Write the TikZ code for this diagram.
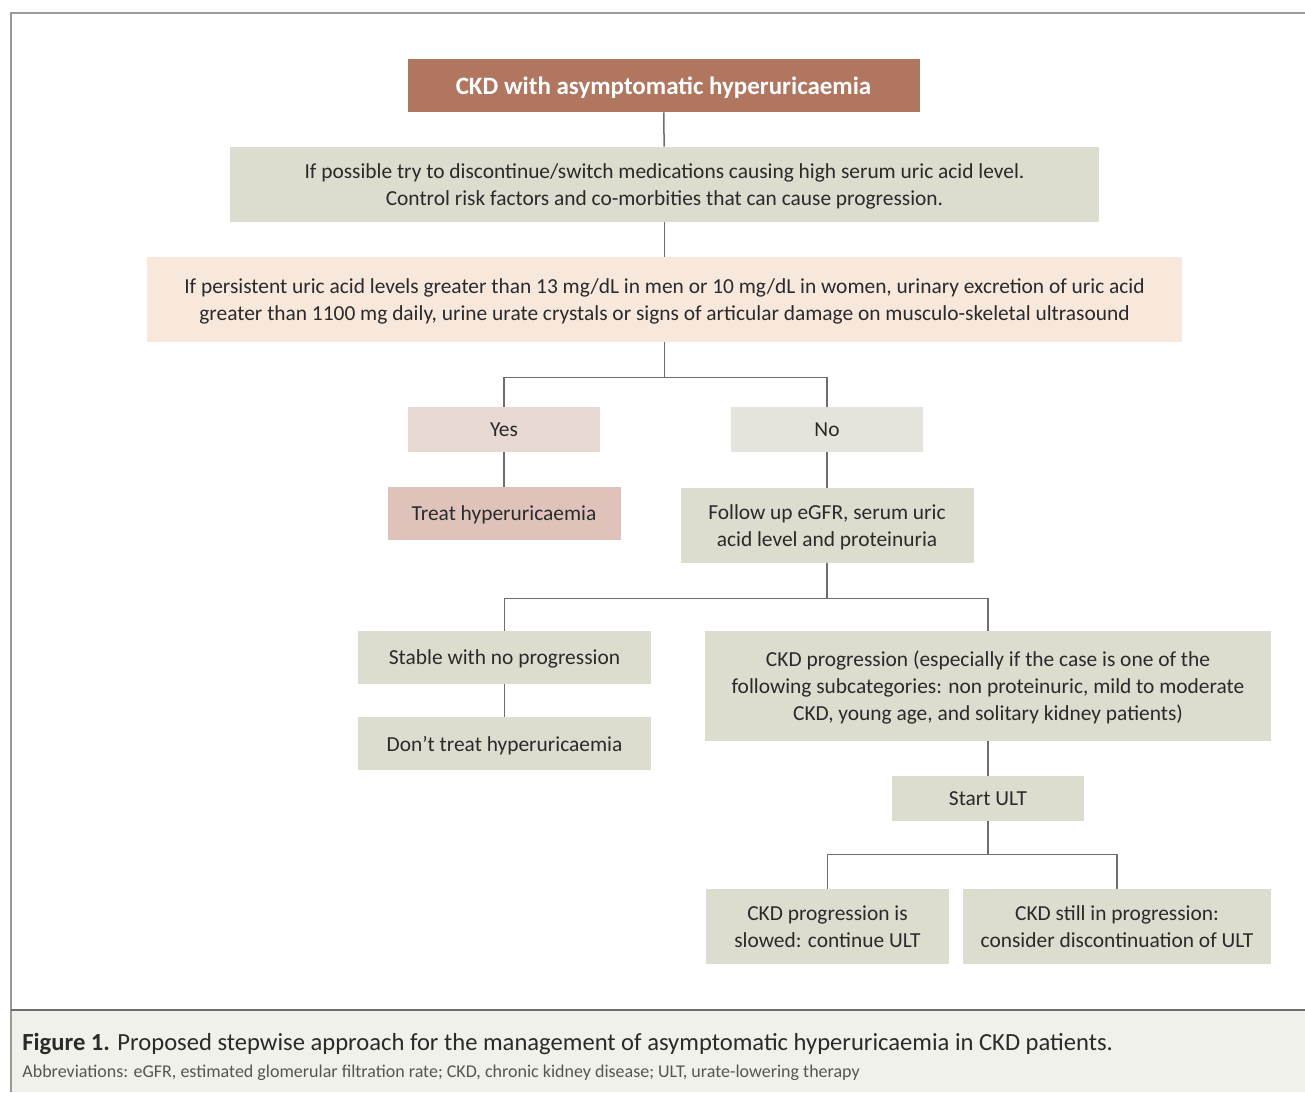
\documentclass[tikz,border=0pt]{standalone}
\usepackage{fontspec}
\setmainfont{Carlito}
\usepackage{tikz}
\usetikzlibrary{positioning}
\usepackage{xcolor}

\definecolor{rust}{HTML}{B07660}
\definecolor{sage}{HTML}{DCDCCF}
\definecolor{peach}{HTML}{F7E8DB}
\definecolor{rosepale}{HTML}{E8D8D3}
\definecolor{rosedeep}{HTML}{DFC3BB}
\definecolor{greypale}{HTML}{E4E4DC}
\definecolor{ink}{HTML}{2A2A2A}
\definecolor{wire}{HTML}{6E6E6E}
\definecolor{rule}{HTML}{9A9A9A}
\definecolor{capbg}{HTML}{F1F1EC}

\begin{document}
\begin{tikzpicture}[
  x=0.5pt, y=-0.5pt,
  box/.style={rectangle, fill=sage, text=ink, inner sep=0pt, text depth=0pt, align=center, font=\fontsize{10.7}{13.5}\selectfont},
  link/.style={draw=wire, line width=0.75pt}
]
\useasboundingbox (0,0) rectangle (1305,1092);

% frame and caption band
\fill[capbg] (11,1010) rectangle (1305,1092);
\draw[rule, line width=0.75pt] (1305,13) -- (11,13) -- (11,1092);
\draw[wire, line width=0.6pt] (11,1010) -- (1305,1010);

\node[box, fill=rust, text=white, font=\fontsize{12.5}{14}\selectfont\bfseries, minimum width=256pt, minimum height=26.5pt] (top) at (663.5,85.5) {CKD with asymptomatic hyperuricaemia};
\node[box, minimum width=434.5pt, minimum height=37.5pt] (meds) at (664.5,184.5) {If possible try to discontinue/switch medications causing high serum uric acid level.\\Control risk factors and co-morbities that can cause progression.};
\node[box, fill=peach, minimum width=517.5pt, minimum height=42.5pt] (cond) at (664.5,299.5) {If persistent uric acid levels greater than 13 mg/dL in men or 10 mg/dL in women, urinary excretion of uric acid\\greater than 1100 mg daily, urine urate crystals or signs of articular damage on musculo-skeletal ultrasound};

\node[box, fill=rosepale, minimum width=96pt, minimum height=22.5pt] (yes) at (504,429.5) {Yes};
\node[box, fill=greypale, minimum width=96pt, minimum height=22.5pt] (no) at (827,429.5) {No};
\node[box, fill=rosedeep, minimum width=116.5pt, minimum height=26.5pt] (treat) at (504,513.5) {Treat hyperuricaemia};
\node[box, minimum width=146.5pt, minimum height=37.5pt] (follow) at (827,525.5) {Follow up eGFR, serum uric\\acid level and proteinuria};

\node[box, minimum width=146.5pt, minimum height=26.5pt] (stable) at (504.5,657.5) {Stable with no progression};
\node[box, minimum width=146.5pt, minimum height=26.5pt] (dont) at (504.5,743.5) {Don't treat hyperuricaemia};
\node[box, minimum width=283pt, minimum height=55pt] (prog) at (988,686) {CKD progression (especially if the case is one of the\\following subcategories: non proteinuric, mild to moderate\\CKD, young age, and solitary kidney patients)};
\node[box, minimum width=96pt, minimum height=22.5pt] (ult) at (988,798.5) {Start ULT};
\node[box, minimum width=121.5pt, minimum height=37.5pt] (slowed) at (827.5,926.5) {CKD progression is\\slowed: continue ULT};
\node[box, minimum width=154pt, minimum height=37.5pt] (still) at (1117,926.5) {CKD still in progression:\\consider discontinuation of ULT};

% connectors
\draw[link] (top) -- (meds);
\draw[link] (meds) -- (cond);
\draw[link] (cond.south) -- ++(0,35) -| (yes.north);
\draw[link] (cond.south) -- ++(0,35) -| (no.north);
\draw[link] (yes) -- (treat);
\draw[link] (no) -- (follow);
\draw[link] (follow.south) -- ++(0,35) -| (stable.north);
\draw[link] (follow.south) -- ++(0,35) -| (prog.north);
\draw[link] (stable) -- (dont);
\draw[link] (prog) -- (ult);
\draw[link] (ult.south) -- ++(0,33) -| (slowed.north);
\draw[link] (ult.south) -- ++(0,33) -| (still.north);

% caption
\node[anchor=base west, inner sep=0pt, text=ink, font=\fontsize{12.3}{14}\selectfont] (caption) at (22,1050) {\textbf{Figure 1.} Proposed stepwise approach for the management of asymptomatic hyperuricaemia in CKD patients.};
\node[anchor=base west, inner sep=0pt, text=ink!80, font=\fontsize{9}{11}\selectfont] (abbrev) at (22,1077) {Abbreviations: eGFR, estimated glomerular filtration rate; CKD, chronic kidney disease; ULT, urate-lowering therapy};
\end{tikzpicture}
\end{document}
